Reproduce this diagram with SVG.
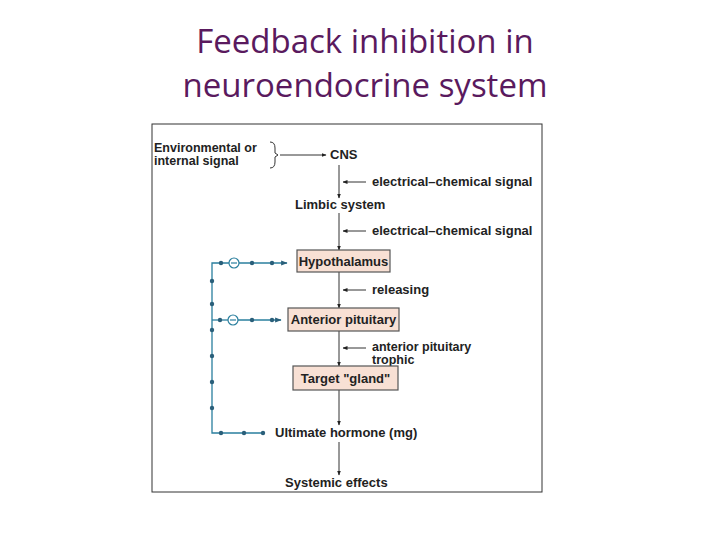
<svg xmlns="http://www.w3.org/2000/svg" width="720" height="540" viewBox="0 0 720 540">
<defs>
<marker id="a" viewBox="0 0 10 10" refX="9" refY="5" markerWidth="5" markerHeight="5" orient="auto"><path d="M0,1 L10,5 L0,9 z" fill="#222"/></marker>
<marker id="b" viewBox="0 0 10 10" refX="9" refY="5" markerWidth="5" markerHeight="5" orient="auto"><path d="M0,1 L10,5 L0,9 z" fill="#2a5f7a"/></marker>
</defs>
<style>
.t{font-family:"Liberation Sans",Arial,sans-serif;font-weight:bold;font-size:13px;fill:#222}
.s{font-size:12.5px}
.box{fill:#f8e0d4;stroke:#555;stroke-width:1.2}
.ln{stroke:#333;stroke-width:1;fill:none}
.fb{stroke:#2a7f9e;stroke-width:1.3;fill:none}
.d{fill:#2a5f7a}
</style>
<rect width="720" height="540" fill="#fff"/>
<text x="365" y="53" text-anchor="middle" font-family="Open Sans,sans-serif" font-size="33" fill="#5a1a5e">Feedback inhibition in</text>
<text x="365" y="97" text-anchor="middle" font-family="Open Sans,sans-serif" font-size="33" fill="#5a1a5e">neuroendocrine system</text>
<rect x="152" y="124" width="390" height="368" fill="#fff" stroke="#333" stroke-width="1"/>
<g id="connectors">
<path class="ln" d="M270,142 q5,0 5,6 v5 l3,2 l-3,2 v5 q0,6 -5,6"/>
<line class="ln" x1="280" y1="155" x2="326" y2="155" marker-end="url(#a)"/>
<line class="ln" x1="339" y1="165" x2="339" y2="198" marker-end="url(#a)"/>
<line class="ln" x1="339" y1="213" x2="339" y2="250" marker-end="url(#a)"/>
<line class="ln" x1="339" y1="272" x2="339" y2="308" marker-end="url(#a)"/>
<line class="ln" x1="339" y1="331" x2="339" y2="366" marker-end="url(#a)"/>
<line class="ln" x1="339" y1="390" x2="339" y2="425" marker-end="url(#a)"/>
<line class="ln" x1="339" y1="442" x2="339" y2="475" marker-end="url(#a)"/>
<line class="ln" x1="366" y1="182" x2="343" y2="182" marker-end="url(#a)"/>
<line class="ln" x1="366" y1="231" x2="343" y2="231" marker-end="url(#a)"/>
<line class="ln" x1="366" y1="290" x2="343" y2="290" marker-end="url(#a)"/>
<line class="ln" x1="366" y1="348" x2="343" y2="348" marker-end="url(#a)"/>
<path class="fb" d="M263,433 H212 V263 H229"/>
<line class="fb" x1="239" y1="263" x2="287" y2="263" marker-end="url(#b)"/>
<line class="fb" x1="212" y1="320" x2="228" y2="320"/>
<line class="fb" x1="238" y1="320" x2="281" y2="320" marker-end="url(#b)"/>
<g fill="none" stroke="#2a7f9e" stroke-width="1.2"><circle cx="234" cy="263" r="5"/><circle cx="233" cy="320" r="5"/>
<line x1="231" y1="263" x2="237" y2="263"/><line x1="230" y1="320" x2="236" y2="320"/></g>
<g class="d"><circle cx="221" cy="263" r="2.2"/><circle cx="252" cy="263" r="2.2"/><circle cx="272" cy="263" r="2.2"/>
<circle cx="220" cy="320" r="2.2"/><circle cx="252" cy="320" r="2.2"/><circle cx="272" cy="320" r="2.2"/>
<circle cx="221" cy="433" r="2.2"/><circle cx="244" cy="433" r="2.2"/><circle cx="263" cy="433" r="2.2"/>
<circle cx="212" cy="281" r="2.2"/><circle cx="212" cy="304" r="2.2"/><circle cx="212" cy="330" r="2.2"/><circle cx="212" cy="356" r="2.2"/><circle cx="212" cy="382" r="2.2"/><circle cx="212" cy="408" r="2.2"/></g>
</g>
<g id="env"><text class="t s" x="154" y="151.5">Environmental or</text><text class="t s" x="154" y="165">internal signal</text></g>
<g id="cns"><text class="t" x="330" y="159">CNS</text></g>
<g id="l1"><text class="t" x="372" y="186">electrical–chemical signal</text></g>
<g id="limbic"><text class="t" x="295" y="209">Limbic system</text></g>
<g id="l2"><text class="t" x="372" y="235">electrical–chemical signal</text></g>
<g id="hypo"><rect class="box" x="297" y="250" width="93" height="22"/><text class="t" x="343.5" y="265.5" text-anchor="middle">Hypothalamus</text></g>
<g id="l3"><text class="t" x="372" y="294">releasing</text></g>
<g id="ap"><rect class="box" x="288" y="308" width="111" height="23"/><text class="t" x="343.5" y="324" text-anchor="middle">Anterior pituitary</text></g>
<g id="l4"><text class="t s" x="372" y="350.5">anterior pituitary</text><text class="t s" x="372" y="364">trophic</text></g>
<g id="tg"><rect class="box" x="293" y="366" width="105" height="24"/><text class="t" x="345.5" y="382.5" text-anchor="middle">Target "gland"</text></g>
<g id="uh"><text class="t" x="275" y="437">Ultimate hormone (mg)</text></g>
<g id="se"><text class="t" x="285" y="487">Systemic effects</text></g>
</svg>
